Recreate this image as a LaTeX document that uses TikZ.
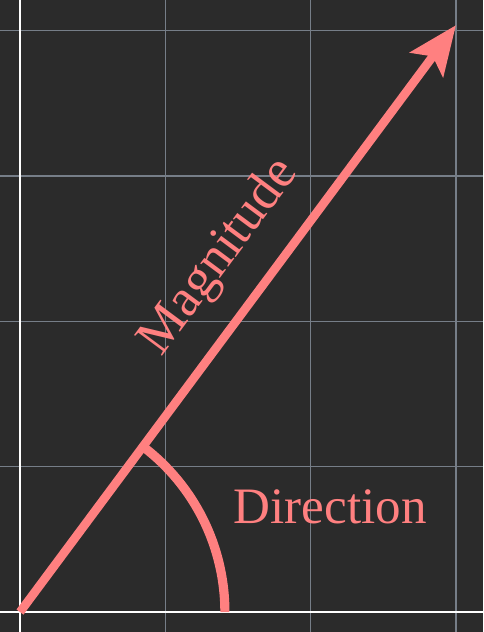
\documentclass[tikz,border=0pt]{standalone}
\usepackage{fontspec}
\setmainfont{Liberation Serif}
\usepackage{tikz}
\usetikzlibrary{arrows.meta,positioning,calc}
\definecolor{fondo}{RGB}{43,43,43}
\definecolor{rejilla}{RGB}{118,126,136}
\definecolor{rosa}{RGB}{255,128,128}
\tikzset{
  rej/.style={draw=rejilla, line width=0.25pt},
  eje/.style={draw=white, line width=0.45pt},
  vec/.style={-{Stealth[length=9.6pt, width=8pt, inset=2pt]}, line width=1.7pt, rosa},
  ang/.style={line width=1.8pt, rosa},
  et/.style={text=rosa, font=\fontsize{10pt}{12pt}\selectfont, inner sep=0pt},
}
\begin{document}
\begin{tikzpicture}[x=1cm, y=1.0096cm]
  % fondo y rejilla
  \fill[fondo] (-0.1376,-0.136) rectangle (3.187,4.172);
  \useasboundingbox (-0.1376,-0.136) rectangle (3.187,4.172);
  \draw[rej] (-0.1376,-0.136) grid (3.187,4.172);
  \draw[eje] (-0.1376,0) -- (3.187,0);
  \draw[eje] (0,-0.136) -- (0,4.172);
  \coordinate (O) at (0,0);
  \coordinate (T) at (3,4);
  \draw[vec] (O) -- node[et, font=\fontsize{10.4pt}{12pt}\selectfont, sloped, pos=0.552, above=4.4pt] (mag) {Magnitude} (T);
  \draw[ang] ($(O)+(53.13:1.41)$) arc[start angle=53.13, end angle=0, radius=1.41];
  \node[et, anchor=base west] (dir) at (1.464,0.605) {Direction};
\end{tikzpicture}
\end{document}
